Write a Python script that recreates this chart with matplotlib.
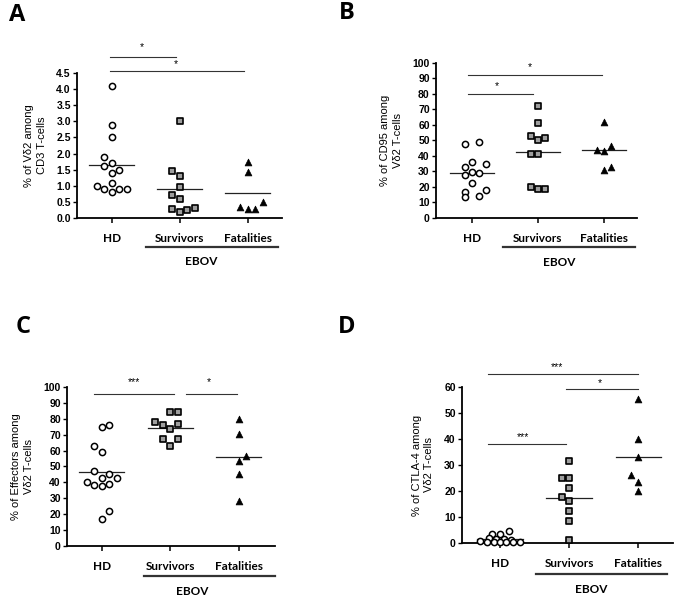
import numpy as np
import matplotlib
matplotlib.use("Agg")
import matplotlib.pyplot as plt

groups = ["HD", "Survivors", "Fatalities"]

# panel A: % of Vd2 among CD3 T-cells
a_hd = [4.1, 2.9, 2.5, 1.9, 1.7, 1.6, 1.5, 1.4, 1.1, 1.0, 0.9, 0.8, 0.9, 0.9]
a_surv = [3.0, 1.45, 1.3, 0.95, 0.7, 0.6, 0.28, 0.2, 0.25, 0.32]
a_fat = [1.75, 1.42, 0.35, 0.28, 0.28, 0.5]
a_center = [1.65, 0.9, 0.77]

# panel B: % of CD95 among Vd2 T-cells
b_hd = [48, 49, 36.3, 33, 34.6, 29.5, 27.5, 29, 22.5, 16.5, 18.3, 13.3, 14.4]
b_surv = [72, 61, 53, 50, 51.5, 41.5, 41.5, 20, 18.5, 18.5]
b_fat = [61.7, 44, 43.5, 46.5, 31, 33]
b_center = [28.7, 42.7, 43.7]

# panel C: % of effectors among Vd2 T-cells
c_hd = [75, 76, 63, 59, 47, 43, 45.5, 42.5, 40, 38.5, 37.5, 39, 22, 17]
c_surv = [84, 84, 78, 76, 73.5, 77, 67.5, 67.5, 63]
c_fat = [80, 70.5, 53.5, 56.5, 45.5, 28]
c_center = [46.3, 74.5, 56]

# panel D: % of CTLA-4 among Vd2 T-cells
d_hd = [4.7, 3.6, 3.5, 2.0, 1.6, 1.4, 1.2, 0.6, 0.3, 0.2, 0.2, 0.3, 0.4, 0.5]
d_surv = [31.5, 25, 25, 21, 17.8, 16.2, 12.3, 8.3, 1.3]
d_fat = [55.5, 40, 33, 26, 23.5, 20]
d_center = [1.5, 17.3, 33]

# horizontal slot of each dot (layout only)
a_slots = [[0, 0, 0, -1, 0, -1, 1, 0, 0, -2, -1, 0, 1, 2],
           [0, -1, 0, 0, -1, 0, -1, 0, 1, 2],
           [0, 0, -1, 0, 1, 2]]
b_slots = [[-1, 1, 0, -1, 2, 0, -1, 1, 0, -1, 2, -1, 1],
           [0, 0, -1, 0, 1, -1, 0, -1, 0, 1],
           [0, -1, 0, 1, 0, 1]]
c_slots = [[0, 1, -1, 0, -1, 0, 1, 2, -2, -1, 0, 1, 1, 0],
           [0, 1, -2, -1, 0, 1, -1, 1, 0],
           [0, 0, 0, 1, 0, 0]]
d_slots = [[1.2, -1, 0, -1.5, -0.5, 0.5, 1.5, -2.6, -1.7, -0.8, 0, 0.8, 1.7, 2.6],
           [0, -1, 0, 0, -1, 0, 0, 0, 0],
           [0, 0, 0, -1, 0, 0]]

tick_font = dict(family="Liberation Sans", weight="bold", size=7.5)
cat_font = dict(family="Lato", weight="bold", size=8.5)


def panel(ax, series, slots, centers, ylim, yticks, fmt, ylabel, sig, ebov_y, ebov_x, xlim):
    styles = [dict(marker="o", s=20, facecolors="white", edgecolors="black", linewidths=1.1),
              dict(marker="s", s=24, facecolors="#9e9e9e", edgecolors="black", linewidths=1.2),
              dict(marker="^", s=24, facecolors="black", edgecolors="black", linewidths=0.5)]
    for i, vals in enumerate(series):
        xs = i + 0.11 * np.array(slots[i])
        ax.scatter(xs, vals, zorder=3, clip_on=False, **styles[i])
        ax.plot([i - 0.33, i + 0.33], [centers[i], centers[i]], color="#222222", lw=0.9, zorder=2)
    ax.set_xlim(*xlim)
    ax.set_ylim(*ylim)
    ax.set_yticks(yticks)
    ax.set_yticklabels([fmt.format(t) for t in yticks], fontdict=tick_font)
    ax.set_xticks(range(3))
    ax.set_xticklabels(groups, fontdict=cat_font)
    ax.tick_params(axis="x", length=3.5, width=1.1, pad=7)
    ax.tick_params(axis="y", length=3, width=1.0, pad=1.5)
    for s in ["top", "right"]:
        ax.spines[s].set_visible(False)
    for s in ["left", "bottom"]:
        ax.spines[s].set_linewidth(1.3)
    ax.set_ylabel(ylabel, family="Liberation Sans", size=8, labelpad=7, linespacing=1.3)
    for x0, x1, y, stars, sx, sy in sig:
        ax.plot([x0, x1], [y, y], color="#333333", lw=0.8, clip_on=False)
        ax.text(sx, sy, stars, ha="center", va="center", size=7.5, family="Liberation Sans")
    tr = ax.get_xaxis_transform()
    ax.plot(ebov_x, [ebov_y, ebov_y], color="#333333", lw=1.6, transform=tr, clip_on=False)
    ax.text(1.32, ebov_y - 0.1, "EBOV", transform=tr, ha="center", va="center", **cat_font)


fig = plt.figure(figsize=(6.75, 5.98), dpi=100)

axA = fig.add_axes([0.1141, 0.6355, 0.3037, 0.2425])
panel(axA, [a_hd, a_surv, a_fat], a_slots, a_center, (0, 4.5), np.arange(0, 4.51, 0.5), "{:.1f}",
      "% of V\u03b42 among\nCD3 T-cells",
      [(-0.03, 0.94, 5.0, "*", 0.44, 5.3), (-0.03, 1.94, 4.56, "*", 0.94, 4.78)],
      -0.2, [0.5, 2.44], (-0.51, 2.5))

axB = fig.add_axes([0.6459, 0.6355, 0.2978, 0.2592])
panel(axB, [b_hd, b_surv, b_fat], b_slots, b_center, (0, 100), np.arange(0, 101, 10), "{:.0f}",
      "% of CD95 among\nV\u03b42 T-cells",
      [(-0.06, 1.97, 92.3, "*", 0.88, 97.4), (-0.06, 0.92, 80, "*", 0.38, 85)],
      -0.187, [0.47, 2.47], (-0.545, 2.5))

axC = fig.add_axes([0.0993, 0.0870, 0.3081, 0.2659])
panel(axC, [c_hd, c_surv, c_fat], c_slots, c_center, (0, 100), np.arange(0, 101, 10), "{:.0f}",
      "% of Effectors among\nV\u03b42 T-cells",
      [(-0.12, 1.05, 95.6, "***", 0.47, 103), (1.23, 1.97, 95.6, "*", 1.56, 103)],
      -0.189, [0.61, 2.53], (-0.51, 2.53))

axD = fig.add_axes([0.6844, 0.0920, 0.3126, 0.2609])
panel(axD, [d_hd, d_surv, d_fat], d_slots, d_center, (0, 60), np.arange(0, 61, 10), "{:.0f}",
      "% of CTLA-4 among\nV\u03b42 T-cells",
      [(-0.17, 1.99, 65, "***", 0.82, 67.7), (0.96, 1.99, 59.2, "*", 1.45, 61.5),
       (-0.17, 0.95, 38.1, "***", 0.33, 40.8)],
      -0.199, [0.52, 2.42], (-0.55, 2.5))

for letter, x, y in [("A", 17, 15), ("B", 347, 13), ("C", 23, 327), ("D", 347, 327)]:
    fig.text(x / 675, 1 - y / 598, letter, ha="center", va="center", size=17, weight="bold",
             family="Open Sans")

fig.savefig("out.png", dpi=100)
